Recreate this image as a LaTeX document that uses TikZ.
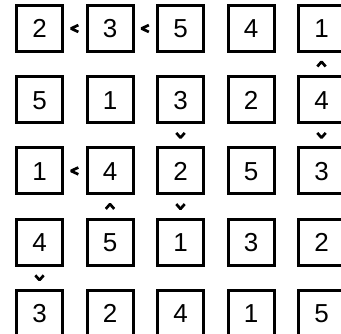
\documentclass[tikz,border=0pt]{standalone}
\usepackage{fontspec}
\setmainfont{Liberation Sans}
\usetikzlibrary{calc}
\newcommand\lsign[2]{\draw[chev] ($(#1.east)!0.5!(#2.west)$) ++(3.6,-3.4) -- ++(-7.4,3.4) -- ++(7.4,3.4);}
\newcommand\usign[2]{\draw[chev] ($(#1.south)!0.5!(#2.north)$) ++(-4.2,2.4) -- ++(4.2,-4.8) -- ++(4.2,4.8);}
\newcommand\dsign[2]{\draw[chev] ($(#1.south)!0.5!(#2.north)$) ++(-4.2,-2.4) -- ++(4.2,4.8) -- ++(4.2,-4.8);}
\begin{document}
\begin{tikzpicture}[x=1pt,y=-1pt,
  cell/.style={draw, line width=3pt, minimum size=46pt, inner sep=0pt,
    font=\fontsize{26}{26}\selectfont, text height=18.6pt, text depth=0pt},
  chev/.style={line width=2.7pt, line join=bevel}]
\useasboundingbox (0,0) rectangle (341,333);
\foreach \r/\vals in {1/{2,3,5,4,1},2/{5,1,3,2,4},3/{1,4,2,5,3},4/{4,5,1,3,2},5/{3,2,4,1,5}}{
  \foreach \d [count=\c] in \vals {
    \node[cell] (b\r\c) at ({39.5+70.5*(\c-1)},{28.5+71.2*(\r-1)}) {\d};
  }
}
\lsign{b11}{b12}
\lsign{b12}{b13}
\usign{b15}{b25}
\dsign{b23}{b33}
\dsign{b25}{b35}
\lsign{b31}{b32}
\usign{b32}{b42}
\dsign{b33}{b43}
\dsign{b41}{b51}
\end{tikzpicture}
\end{document}
